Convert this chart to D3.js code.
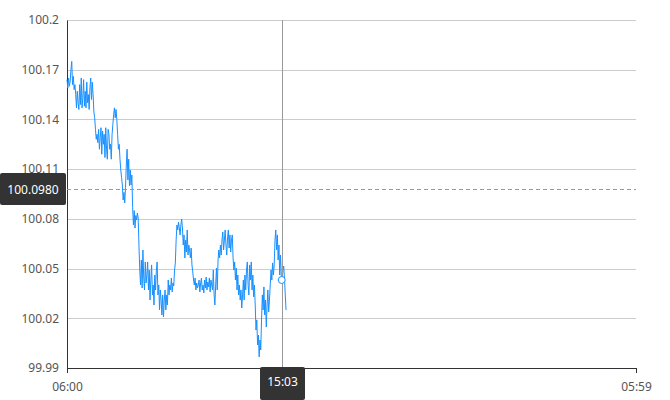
<!DOCTYPE html>
<html>
<head>
<meta charset="utf-8">
<script src="https://cdn.jsdelivr.net/npm/d3@7"></script>
<style>
  html, body { margin: 0; padding: 0; background: #fff; }
  svg { display: block; font-family: "Noto Sans", "Open Sans", sans-serif; }
</style>
</head>
<body>
<svg id="chart" width="670" height="400"></svg>
<script>
// ---- data ----
const startTime = "06:00";
const endTime = "05:59";          // next day
const stepMinutes = 2;
const values = [
  100.164, 100.159, 100.165, 100.160, 100.163, 100.170, 100.175, 100.161, 100.166, 100.158, 100.161,
  100.155, 100.147, 100.157, 100.150, 100.146, 100.161, 100.149, 100.165, 100.147, 100.153, 100.164, 100.148, 100.157, 100.147, 100.1625, 100.150, 100.155, 100.146, 100.159, 100.165, 100.152, 100.1625, 100.155,
  100.1445, 100.141, 100.134, 100.128, 100.131, 100.126,
  100.134, 100.122, 100.129, 100.135, 100.119, 100.133, 100.125, 100.131, 100.117, 100.135, 100.122, 100.116, 100.134, 100.131, 100.122, 100.125, 100.116, 100.131,
  100.137, 100.143, 100.147, 100.141, 100.146, 100.140,
  100.131, 100.122, 100.125, 100.116, 100.1095, 100.105,
  100.1004, 100.0914, 100.096, 100.0896, 100.099,
  100.1125, 100.122, 100.1035, 100.116, 100.100, 100.1095, 100.1004, 100.1065,
  100.087, 100.0763, 100.085, 100.0745, 100.082, 100.0793, 100.0835, 100.0805,
  100.0642, 100.0491, 100.0401, 100.0552, 100.0383, 100.0612, 100.0443, 100.0371, 100.054, 100.0413, 100.0461,
  100.054, 100.0371, 100.0491, 100.031, 100.0431, 100.0522, 100.0341, 100.0401, 100.028, 100.0461, 100.0371, 100.0491, 100.054,
  100.0341, 100.0401, 100.025, 100.0371, 100.031, 100.022, 100.0341, 100.0208, 100.031, 100.0371, 100.025, 100.0341, 100.028,
  100.0431, 100.0341, 100.0401, 100.0371, 100.0443, 100.0359, 100.0413, 100.0395, 100.0491, 100.0534,
  100.0672, 100.0763, 100.0733, 100.0781, 100.0745, 100.0703, 100.0763, 100.0799, 100.0745,
  100.0642, 100.0703, 100.0564, 100.0672, 100.06, 100.0733, 100.0582, 100.0642, 100.0612, 100.0564, 100.0624,
  100.0522, 100.048, 100.0431, 100.0401, 100.0443, 100.0371, 100.0413, 100.0383,
  100.0401, 100.0431, 100.0359, 100.0413, 100.0443, 100.0371, 100.0401, 100.0353, 100.0431, 100.0383, 100.0449, 100.0371, 100.0419, 100.0389, 100.0443, 100.0359, 100.0431, 100.0401, 100.0371,
  100.0491, 100.0341, 100.028, 100.0401, 100.0503, 100.0371,
  100.0552, 100.0612, 100.0564, 100.0642, 100.0582, 100.0672,
  100.0721, 100.0612, 100.0672, 100.0733, 100.0642, 100.0582, 100.0685, 100.0733, 100.0624, 100.0703, 100.06, 100.0672, 100.0703,
  100.0564, 100.0491, 100.054, 100.0431, 100.0503, 100.0371, 100.0461, 100.0341, 100.0401, 100.031, 100.0371, 100.0262, 100.0341,
  100.0431, 100.031, 100.0461, 100.0371, 100.0491, 100.054, 100.0401, 100.0341, 100.0522, 100.0431, 100.054, 100.0371, 100.0461, 100.0329, 100.0401,
  100.028, 100.0129, 100.019, 100.0039, 100.0099, 99.9967, 100.0069, 100.0009,
  100.019, 100.0341, 100.025, 100.0389, 100.022, 100.031, 100.0147, 100.028, 100.0371, 100.0238, 100.031,
  100.0401, 100.0491, 100.0431, 100.0534, 100.0461, 100.0522,
  100.0672, 100.0733, 100.0612, 100.0703,
  100.0552, 100.0642, 100.0461, 100.0582, 100.0452,
  100.0431, 100.0491, 100.0515, 100.0443, 100.0341, 100.025
];
const yTickValues = [99.99, 100.02, 100.05, 100.08, 100.11, 100.14, 100.17, 100.2];
const yTickLabels = ["99.99", "100.02", "100.05", "100.08", "100.11", "100.14", "100.17", "100.2"];
const xTickLabels = ["06:00", "05:59"];
const hoverTime = "15:03";
const pointerValue = 100.0980;

// ---- setup ----
const W = 670, H = 400;
const margin = { top: 20, right: 34, bottom: 32, left: 67 };
const iw = W - margin.left - margin.right;
const ih = H - margin.top - margin.bottom;

const parseHM = (s, dayOffset) => {
  const [h, m] = s.split(":").map(Number);
  return new Date(2024, 0, 1 + (dayOffset || 0), h, m);
};
const t0 = parseHM(startTime, 0);
const t1 = parseHM(endTime, 1);
const data = values.map((v, i) => ({ t: d3.timeMinute.offset(t0, i * stepMinutes), v }));

const x = d3.scaleTime().domain([t0, t1]).range([0, iw]);
const y = d3.scaleLinear().domain([99.99, 100.2]).range([ih, 0]);

const svg = d3.select("#chart");
const g = svg.append("g").attr("transform", `translate(${margin.left},${margin.top})`);

// grid lines
g.append("g").selectAll("line").data(yTickValues).join("line")
  .attr("x1", 0).attr("x2", iw)
  .attr("y1", d => Math.round(y(d)) + 0.5).attr("y2", d => Math.round(y(d)) + 0.5)
  .attr("stroke", "#cccccc").attr("stroke-width", 1);

// y axis
const yAxis = g.append("g")
  .call(d3.axisLeft(y).tickValues(yTickValues)
    .tickFormat((d, i) => yTickLabels[i]).tickSize(0).tickSizeOuter(0).tickPadding(8));
yAxis.select(".domain").attr("stroke", "#333");
yAxis.selectAll("text").attr("fill", "#555").attr("font-size", 12)
  .attr("font-family", '"Noto Sans", sans-serif');

// x axis
const xAxis = g.append("g").attr("transform", `translate(0,${ih})`)
  .call(d3.axisBottom(x).tickValues([t0, t1])
    .tickFormat((d, i) => xTickLabels[i]).tickSize(5).tickSizeOuter(0).tickPadding(9));
xAxis.select(".domain").attr("stroke", "#333");
xAxis.selectAll(".tick line").attr("stroke", "#333");
xAxis.selectAll("text").attr("fill", "#555").attr("font-size", 12)
  .attr("font-family", '"Noto Sans", sans-serif');

// line
const line = d3.line().x(d => x(d.t)).y(d => y(d.v));
g.append("path").datum(data)
  .attr("fill", "none").attr("stroke", "#1890ff").attr("stroke-width", 1)
  .attr("stroke-linejoin", "round")
  .attr("d", line);

// crosshair
const ht = parseHM(hoverTime, 0);
const hx = Math.round(x(ht)) + 0.5;
g.append("line").attr("x1", hx).attr("x2", hx).attr("y1", 0).attr("y2", ih)
  .attr("stroke", "#999").attr("stroke-width", 1);
const py = Math.round(y(pointerValue)) + 0.5;
g.append("line").attr("x1", 0).attr("x2", iw).attr("y1", py).attr("y2", py)
  .attr("stroke", "#999").attr("stroke-width", 1).attr("stroke-dasharray", "4,3");

// hover marker on nearest data point
const bis = d3.bisector(d => d.t).center;
const hp = data[bis(data, ht)];
g.append("circle").attr("cx", x(ht)).attr("cy", y(hp.v)).attr("r", 3.5)
  .attr("fill", "#fff").attr("stroke", "#1890ff").attr("stroke-width", 1);

// y pointer label
const yTip = svg.append("g");
yTip.append("rect").attr("x", 0).attr("y", margin.top + py - 16.5).attr("width", 66).attr("height", 32)
  .attr("rx", 2).attr("fill", "#333");
yTip.append("text").attr("x", 33).attr("y", margin.top + py).attr("dy", "0.35em")
  .attr("text-anchor", "middle").attr("fill", "#fff").attr("font-size", 12)
  .text(pointerValue.toFixed(4));

// x pointer label
const xTip = svg.append("g");
xTip.append("rect").attr("x", margin.left + hx - 22.5).attr("y", margin.top + ih - 1)
  .attr("width", 45).attr("height", 33).attr("rx", 2).attr("fill", "#333");
xTip.append("text").attr("x", margin.left + hx).attr("y", margin.top + ih + 14).attr("dy", "0.35em")
  .attr("text-anchor", "middle").attr("fill", "#fff").attr("font-size", 12)
  .text(hoverTime);
</script>
</body>
</html>
